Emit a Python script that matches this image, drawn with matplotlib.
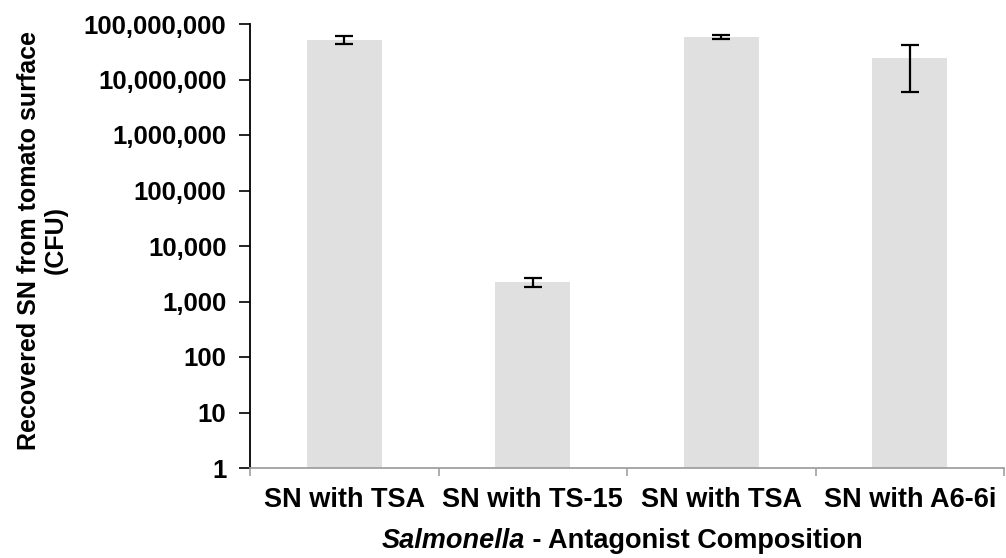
import matplotlib
matplotlib.use("Agg")
import matplotlib.pyplot as plt
from matplotlib.ticker import FixedLocator, FuncFormatter, NullLocator

# Recovered Salmonella counts (CFU) per antagonist composition
categories = ["SN with TSA", "SN with TS-15", "SN with TSA", "SN with A6-6i"]
means = [5.2e7, 2250, 5.9e7, 2.4e7]
errors = [9e6, 440, 5e6, 1.8e7]
y_ticks = [10 ** k for k in range(0, 9)]

plt.rcParams["font.family"] = ["Liberation Sans", "DejaVu Sans"]
plt.rcParams["font.weight"] = "bold"

W, H, DPI = 1006, 558, 100
fig = plt.figure(figsize=(W / DPI, H / DPI), dpi=DPI)
ax = fig.add_axes([250 / W, 1 - 468 / H, (1004 - 250) / W, (468 - 24) / H])

x = list(range(len(categories)))
ax.bar(x, means, width=0.40, color="#e0e0e0", edgecolor="none", zorder=1)
ax.errorbar(x, means, yerr=errors, fmt="none", ecolor="black",
            elinewidth=1.6, capsize=6.5, capthick=1.6, zorder=2)

ax.set_yscale("log")
ax.set_ylim(1, 1e8)
ax.set_xlim(-0.5, len(categories) - 0.5)

ax.yaxis.set_major_locator(FixedLocator(y_ticks))
ax.yaxis.set_minor_locator(NullLocator())
ax.yaxis.set_major_formatter(FuncFormatter(lambda v, p: f"{v:,.0f}"))
ax.tick_params(axis="y", which="major", direction="out", length=8, width=1.2,
               color="black", pad=9, labelsize=18.5)

# gray boundary ticks between categories, labels centred on the bars
ax.xaxis.set_major_locator(FixedLocator([i - 0.5 for i in range(len(categories) + 1)]))
ax.xaxis.set_major_formatter(FuncFormatter(lambda v, p: ""))
ax.xaxis.set_minor_locator(FixedLocator(x))
ax.set_xticklabels(categories, minor=True)
ax.tick_params(axis="x", which="major", direction="out", length=6, width=1.2,
               color="#a0a0a0")
ax.tick_params(axis="x", which="minor", length=0, pad=14, labelsize=19.5)

for side in ("top", "right"):
    ax.spines[side].set_visible(False)
ax.spines["left"].set_color("black")
ax.spines["left"].set_linewidth(1.3)
ax.spines["bottom"].set_color("#a0a0a0")
ax.spines["bottom"].set_linewidth(1.3)

fig.text(42 / W, 1 - 240 / H, "Recovered SN from tomato surface\n(CFU)",
         rotation=90, ha="center", va="center", multialignment="center",
         fontsize=18, fontweight="bold", linespacing=1.15)

# x-axis title with italic genus name
renderer = fig.canvas.get_renderer()
ty = 1 - 541 / H
t1 = fig.text(0, ty, "Salmonella", fontsize=19.5, fontweight="bold",
              style="italic", ha="left", va="center")
t2 = fig.text(0, ty, " - Antagonist Composition", fontsize=19.5,
              fontweight="bold", ha="left", va="center")
w1 = t1.get_window_extent(renderer).width
w2 = t2.get_window_extent(renderer).width
x0 = 622 - (w1 + w2) / 2
t1.set_x(x0 / W)
t2.set_x((x0 + w1) / W)

fig.savefig("out.png", dpi=DPI)
